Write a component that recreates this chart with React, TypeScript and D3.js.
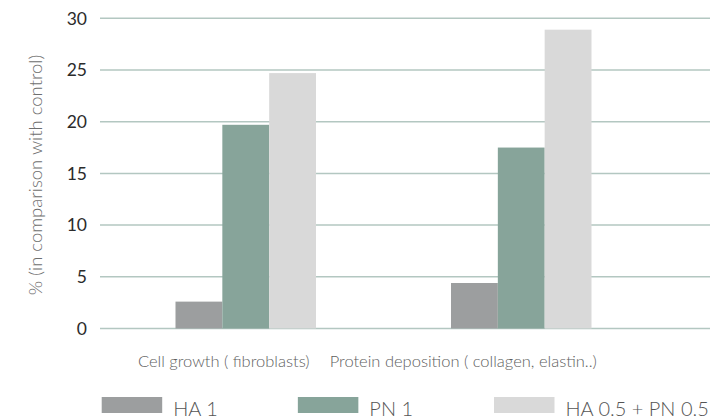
import * as d3 from "d3";

// === Data ===
const categories = ["Cell growth ( fibroblasts)", "Protein deposition ( collagen, elastin..)"];
const seriesNames = ["HA 1", "PN 1", "HA 0.5 + PN 0.5"];
const ha1 = [2.6, 4.4];
const pn1 = [19.7, 17.5];
const haPn = [24.7, 28.9];
const yTicks = [0, 5, 10, 15, 20, 25, 30];
const colors = ["#9c9e9f", "#87a49a", "#d9d9d9"];

const W = 713;
const H = 419;
const FONT = "Lato, 'Open Sans', sans-serif";

export default function App() {
  const values = [ha1, pn1, haPn];
  const rows = categories.map((cat, i) => ({
    cat,
    vals: seriesNames.map((s, j) => ({ s, v: values[j][i], color: colors[j] })),
  }));

  const y = d3.scaleLinear().domain([0, 30]).range([328.5, 18.3]);
  const x0 = d3
    .scaleBand<string>()
    .domain(categories)
    .range([108, 659])
    .paddingInner(0.49)
    .paddingOuter(0.245);
  const x1 = d3.scaleBand<string>().domain(seriesNames).range([0, x0.bandwidth()]);

  // category labels sit a bit left of the group centre in the original
  const labelShift = [-22, -58];

  // legend layout
  const legendX = d3.scalePoint<string>().domain(seriesNames).range([101.7, 494]);

  return (
    <svg
      width={W}
      height={H}
      style={{ position: "absolute", left: 0, top: 0, background: "#fff" }}
      fontFamily={FONT}
    >
      {/* grid */}
      {yTicks.map((t) => (
        <g key={t}>
          <line x1={100} x2={710} y1={y(t)} y2={y(t)} stroke="#b3c7c1" strokeWidth={1.5} />
          <text
            x={87}
            y={y(t)}
            dy="0.36em"
            textAnchor="end"
            fontSize={17.5}
            fill="#2b2b2b"
          >
            {t}
          </text>
        </g>
      ))}

      {/* bars */}
      {rows.map((r) => (
        <g key={r.cat} transform={`translate(${x0(r.cat)},0)`}>
          {r.vals.map((d) => (
            <rect
              key={d.s}
              x={x1(d.s)}
              y={y(d.v)}
              width={x1.bandwidth()}
              height={y(0) - y(d.v)}
              fill={d.color}
            />
          ))}
        </g>
      ))}

      {/* category labels */}
      {categories.map((c, i) => (
        <text
          key={c}
          x={(x0(c) ?? 0) + x0.bandwidth() / 2 + labelShift[i]}
          y={367}
          textAnchor="middle"
          fontSize={16.5}
          fontWeight={300}
          fill="#5e5e5e"
        >
          {c}
        </text>
      ))}

      {/* y title */}
      <text
        transform={`translate(42,175) rotate(-90)`}
        textAnchor="middle"
        fontSize={18.5}
        fontWeight={300}
        fill="#6e6e6e"
      >
        % (in comparison with control)
      </text>

      {/* legend */}
      {seriesNames.map((s, i) => (
        <g key={s} transform={`translate(${legendX(s)},397)`}>
          <rect width={60.5} height={16} fill={colors[i]} />
          <text x={71.5} y={19} fontSize={20} fontWeight={300} fill="#555">
            {s}
          </text>
        </g>
      ))}
    </svg>
  );
}
